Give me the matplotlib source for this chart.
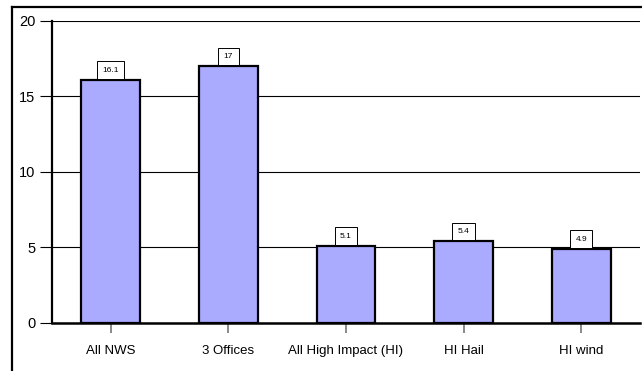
import matplotlib
matplotlib.use("Agg")
import matplotlib.pyplot as plt
from matplotlib.lines import Line2D

categories = ["All NWS", "3 Offices", "All High Impact (HI)", "HI Hail", "HI wind"]
values = [16.1, 17, 5.1, 5.4, 4.9]
value_labels = ["16.1", "17", "5.1", "5.4", "4.9"]
y_ticks = [0, 5, 10, 15, 20]

plt.rcParams["font.family"] = ["Liberation Sans", "DejaVu Sans"]

W, H = 642, 371
fig = plt.figure(figsize=(W / 100, H / 100), dpi=100)
fig.patch.set_facecolor("white")

ax = fig.add_axes([52 / W, 1 - 322.7 / H, (640 - 52) / W, (322.7 - 21) / H])

x = range(len(categories))
ax.bar(x, values, width=0.5, color="#AAAAFF", edgecolor="black", linewidth=1.6, zorder=3)

ax.set_xlim(-0.5, len(categories) - 0.5)
ax.set_ylim(0, 20)
ax.set_yticks(y_ticks)
ax.set_xticks(list(x))
ax.set_xticklabels(categories, fontsize=9.5)
ax.set_yticklabels([str(t) for t in y_ticks], fontsize=10.5)

ax.yaxis.grid(True, color="black", linewidth=0.8, zorder=0)
ax.set_axisbelow(True)

for side in ("top", "right"):
    ax.spines[side].set_visible(False)
ax.spines["left"].set_linewidth(1.6)
ax.spines["bottom"].set_linewidth(1.8)
ax.spines["left"].set_zorder(4)
ax.spines["bottom"].set_zorder(4)

ax.tick_params(axis="y", direction="out", length=9, width=0.8, color="black", pad=3)
ax.tick_params(axis="x", direction="out", length=7, width=1.2, color="#777777", pad=9)

label_size = 6
label_pad = 0.65
for xi, v, lab in zip(x, values, value_labels):
    ax.annotate(lab, xy=(xi, v), xytext=(0, label_pad * label_size + 0.6),
                textcoords="offset points",
                ha="center", va="bottom", fontsize=label_size, zorder=5,
                bbox=dict(boxstyle=f"square,pad={label_pad}", facecolor="white",
                          edgecolor="black", linewidth=0.7))

# outer chart frame
fig.add_artist(Line2D([12 / W, 12 / W], [1 - 6.5 / H, -0.1], transform=fig.transFigure,
                      color="black", linewidth=1.6))
fig.add_artist(Line2D([12 / W, 1.1], [1 - 6.5 / H, 1 - 6.5 / H], transform=fig.transFigure,
                      color="black", linewidth=1.6))

fig.savefig("out.png", dpi=100)
